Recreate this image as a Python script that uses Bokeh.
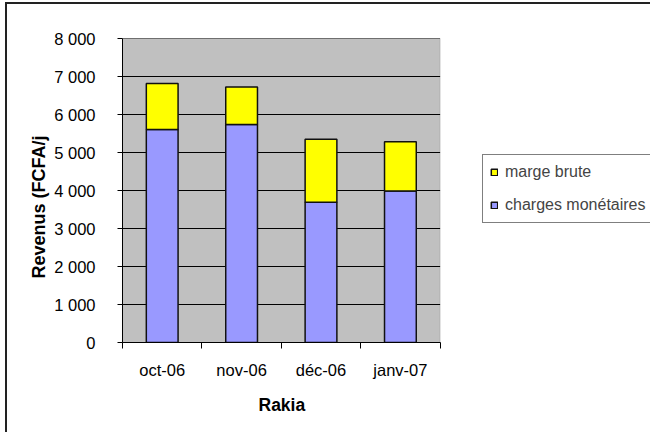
from bokeh.plotting import figure
from bokeh.models import Range1d, FixedTicker, Legend, LegendItem, LinearAxis, BoxAnnotation, Title
from bokeh.embed import file_html
from bokeh.resources import INLINE

categories = ["oct-06", "nov-06", "déc-06", "janv-07"]
charges = [5605, 5737, 3690, 3985]
marge = [1210, 984, 1660, 1297]
y_ticks = [0, 1000, 2000, 3000, 4000, 5000, 6000, 7000, 8000]
y_tick_labels = ["0", "1 000", "2 000", "3 000", "4 000", "5 000", "6 000", "7 000", "8 000"]

FONT = "Liberation Sans"
n = len(categories)
xs = [i + 0.5 for i in range(n)]
data = dict(x=xs, charges=charges, marge=marge)

FRAME_W = 528
AREA_W = 317.6  # pixel width of the grey plot area
x_end = n * FRAME_W / AREA_W

p = figure(frame_width=FRAME_W, frame_height=304, output_backend="svg", toolbar_location=None,
           x_range=Range1d(0, x_end), y_range=Range1d(0, 8000),
           x_axis_type=None, min_border_left=115, min_border_right=0,
           min_border_top=34, min_border_bottom=90,
           background_fill_color="white", border_fill_color="white",
           outline_line_color=None)
p.styles = {"border-left": "2px solid #222222", "border-top": "2px solid #222222",
            "margin-left": "5px", "margin-top": "2px"}

p.add_layout(BoxAnnotation(left=0, right=n, bottom=y_ticks[0], top=y_ticks[-1],
                           fill_color="#C0C0C0", fill_alpha=1,
                           line_color="#808080", line_width=1, level="underlay"))
p.segment(x0=[0] * len(y_ticks), x1=[n] * len(y_ticks), y0=y_ticks, y1=y_ticks,
          line_color="black", line_width=1)

rs = p.vbar_stack(["charges", "marge"], x="x", width=0.4, source=data,
                  fill_color=["#9999FF", "#FFFF00"], line_color="#111111", line_width=1.5)

# y axis
ya = p.yaxis[0]
ya.ticker = FixedTicker(ticks=y_ticks)
ya.major_label_overrides = {t: l for t, l in zip(y_ticks, y_tick_labels)}
ya.major_tick_out = 5
ya.major_tick_in = 0
ya.minor_tick_line_color = None
ya.major_label_standoff = 22
ya.major_label_text_font = FONT
ya.major_label_text_font_size = "16.5px"
ya.major_label_text_color = "black"
ya.axis_line_color = "black"
ya.major_tick_line_color = "black"

# x axis: labels at category centres, ticks at boundaries
xa = LinearAxis(bounds=(0, n))
xa.ticker = FixedTicker(ticks=xs, minor_ticks=list(range(n + 1)))
xa.major_label_overrides = {x: c for x, c in zip(xs, categories)}
xa.major_tick_in = 0
xa.major_tick_out = 0
xa.minor_tick_in = 0
xa.minor_tick_out = 6
xa.minor_tick_line_color = "black"
xa.axis_line_color = "black"
xa.major_label_standoff = 12
xa.major_label_text_font = FONT
xa.major_label_text_font_size = "16.5px"
xa.major_label_text_color = "black"
p.add_layout(xa, "below")

# axis titles as side titles so they can be placed under / beside the grey area
x_title = Title(text="Rakia", align="left", offset=136, standoff=23,
                text_font=FONT, text_font_size="17.5px", text_font_style="bold",
                text_color="black")
p.add_layout(x_title, "below")
y_title = Title(text="Revenus (FCFA/j", align="left", offset=64, standoff=6,
                text_font=FONT, text_font_size="18px", text_font_style="bold",
                text_color="black")
p.add_layout(y_title, "left")

p.xgrid.grid_line_color = None
p.ygrid.grid_line_color = None

legend = Legend(items=[LegendItem(label="marge brute", renderers=[rs[1]]),
                       LegendItem(label="charges monétaires", renderers=[rs[0]])],
                location=(360, 119), orientation="vertical",
                label_text_font=FONT, label_text_font_size="16px",
                glyph_width=8, glyph_height=8, label_height=20, spacing=13,
                padding=7, label_standoff=7, label_width=170, margin=0,
                border_line_color="black", border_line_width=1,
                background_fill_color="white", background_fill_alpha=1)
p.add_layout(legend, "center")

open("out.html", "w").write(file_html(p, INLINE))
